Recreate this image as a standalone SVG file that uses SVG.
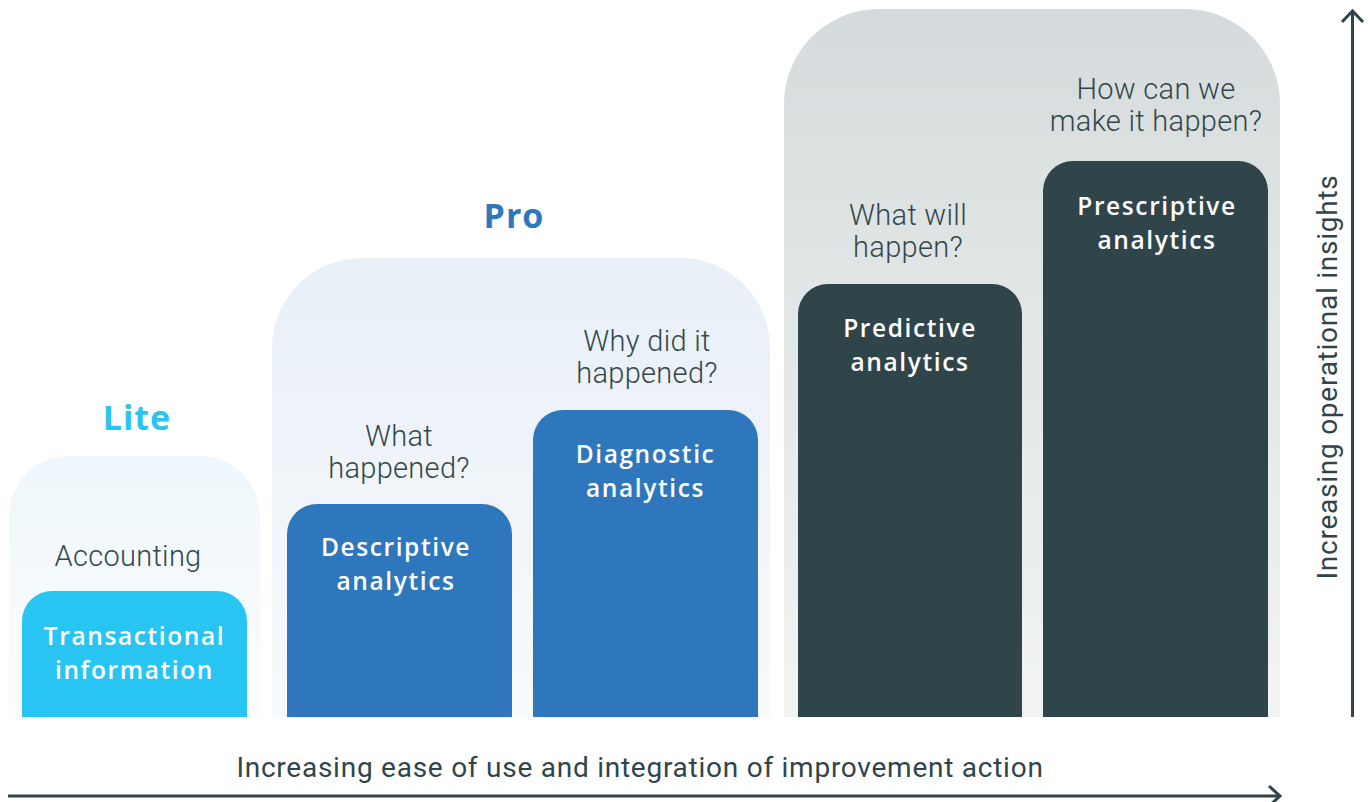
<svg xmlns="http://www.w3.org/2000/svg" width="1372" height="802" viewBox="0 0 1372 802">
  <defs>
    <linearGradient id="gLite" x1="0" y1="0" x2="0" y2="1">
      <stop offset="0" stop-color="#eef7fb"/>
      <stop offset="1" stop-color="#fbfdfe"/>
    </linearGradient>
    <linearGradient id="gPro" x1="0" y1="0" x2="0" y2="1">
      <stop offset="0" stop-color="#e8eff7"/>
      <stop offset="1" stop-color="#f8fafc"/>
    </linearGradient>
    <linearGradient id="gAdv" x1="0" y1="0" x2="0" y2="1">
      <stop offset="0" stop-color="#d5dbdc"/>
      <stop offset="1" stop-color="#f2f4f4"/>
    </linearGradient>
    <style>
      .tier { font-family: "Open Sans", "Liberation Sans", sans-serif; font-weight: 700; font-size: 34px; text-anchor: middle; letter-spacing: 1px; }
      .q { font-family: Roboto, "Liberation Sans", sans-serif; font-weight: 300; font-size: 29px; fill: #33474b; text-anchor: middle; letter-spacing: 0.3px; }
      .lbl { font-family: "Open Sans", "Liberation Sans", sans-serif; font-weight: 600; font-size: 24.5px; fill: #ffffff; text-anchor: middle; letter-spacing: 1.6px; }
      .axis { font-family: Roboto, "Liberation Sans", sans-serif; font-weight: 400; font-size: 28px; fill: #2f454a; text-anchor: middle; letter-spacing: 0.75px; }
      .arrow { stroke: #2f454a; stroke-width: 3; fill: none; }
    </style>
  </defs>
  <rect width="1372" height="802" fill="#ffffff"/>

  <g id="lite-group">
    <path d="M9 717 V516 A60 60 0 0 1 69 456 H200 A60 60 0 0 1 260 516 V717 Z" fill="url(#gLite)"/>
    <text class="tier" x="137" y="430" fill="#29c4f0">Lite</text>
    <text class="q" x="128" y="566">Accounting</text>
  </g>
  <g id="transactional">
    <path d="M22 717 V621 A30 30 0 0 1 52 591 H217 A30 30 0 0 1 247 621 V717 Z" fill="#29c5f2"/>
    <text class="lbl" x="134.5" y="645">Transactional</text>
    <text class="lbl" x="134.5" y="679">information</text>
  </g>

  <g id="pro-group">
    <path d="M272 717 V348 A90 90 0 0 1 362 258 H680 A90 90 0 0 1 770 348 V717 Z" fill="url(#gPro)"/>
    <text class="tier" x="514" y="228" fill="#2e78bd">Pro</text>
    <text class="q" x="399" y="446">What</text>
    <text class="q" x="399" y="478">happened?</text>
    <text class="q" x="647" y="351">Why did it</text>
    <text class="q" x="647" y="383">happened?</text>
  </g>
  <g id="descriptive">
    <path d="M287 717 V534 A30 30 0 0 1 317 504 H482 A30 30 0 0 1 512 534 V717 Z" fill="#2e77bc"/>
    <text class="lbl" x="396" y="556">Descriptive</text>
    <text class="lbl" x="396" y="590">analytics</text>
  </g>
  <g id="diagnostic">
    <path d="M533 717 V440 A30 30 0 0 1 563 410 H728 A30 30 0 0 1 758 440 V717 Z" fill="#2e77bc"/>
    <text class="lbl" x="645.5" y="463">Diagnostic</text>
    <text class="lbl" x="645.5" y="497">analytics</text>
  </g>

  <g id="advanced-group">
    <path d="M784 717 V104 A95 95 0 0 1 879 9 H1185 A95 95 0 0 1 1280 104 V717 Z" fill="url(#gAdv)"/>
    <text class="q" x="908" y="225">What will</text>
    <text class="q" x="908" y="257">happen?</text>
    <text class="q" x="1156" y="99">How can we</text>
    <text class="q" x="1156" y="131">make it happen?</text>
  </g>
  <g id="predictive">
    <path d="M798 717 V314 A30 30 0 0 1 828 284 H992 A30 30 0 0 1 1022 314 V717 Z" fill="#2f454a"/>
    <text class="lbl" x="910" y="337">Predictive</text>
    <text class="lbl" x="910" y="371">analytics</text>
  </g>
  <g id="prescriptive">
    <path d="M1043 717 V191 A30 30 0 0 1 1073 161 H1238 A30 30 0 0 1 1268 191 V717 Z" fill="#2f454a"/>
    <text class="lbl" x="1157" y="215">Prescriptive</text>
    <text class="lbl" x="1157" y="249">analytics</text>
  </g>

  <g id="connectors">
    <line class="arrow" x1="1352.5" y1="717" x2="1352.5" y2="11"/>
    <polyline class="arrow" points="1342,22 1352.5,11 1363,22"/>
    <line class="arrow" x1="8" y1="796" x2="1280" y2="796"/>
    <polyline class="arrow" points="1269,786 1280,796 1269,806"/>
  </g>

  <g id="axis-labels">
    <text class="axis" x="640" y="777">Increasing ease of use and integration of improvement action</text>
    <text class="axis" transform="translate(1337 377) rotate(-90)">Increasing operational insights</text>
  </g>
</svg>
